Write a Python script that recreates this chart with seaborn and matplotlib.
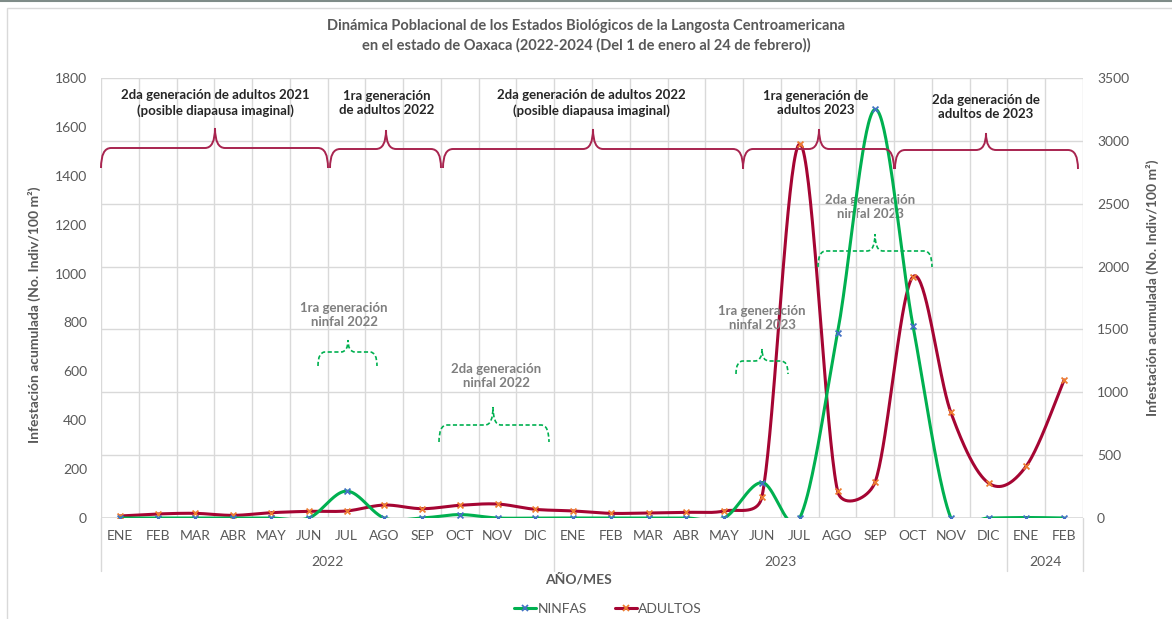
import numpy as np
import pandas as pd
import matplotlib
matplotlib.use("Agg")
import matplotlib.pyplot as plt
import seaborn as sns
from matplotlib.path import Path
from matplotlib.patches import PathPatch, Rectangle
from matplotlib.lines import Line2D
import matplotlib.transforms as mtransforms

# ---------------- data ----------------
meses = ['ENE', 'FEB', 'MAR', 'ABR', 'MAY', 'JUN', 'JUL', 'AGO', 'SEP', 'OCT', 'NOV', 'DIC',
         'ENE', 'FEB', 'MAR', 'ABR', 'MAY', 'JUN', 'JUL', 'AGO', 'SEP', 'OCT', 'NOV', 'DIC',
         'ENE', 'FEB']
anios = ['2022', '2023', '2024']
meses_por_anio = [12, 12, 2]
ninfas = [0, 0, 0, 0, 0, 0, 110, 0, 0, 14, 0, 0,
          0, 0, 0, 0, 0, 145, 0, 756, 1672, 785, 0, 0,
          2, 0]
adultos = [16, 32, 37, 21, 42, 53, 56, 103, 74, 101, 111, 69,
           56, 37, 40, 45, 56, 170, 2975, 217, 289, 1920, 841, 278,
           414, 1098]
left_ticks = [0, 200, 400, 600, 800, 1000, 1200, 1400, 1600, 1800]
right_ticks = [0, 500, 1000, 1500, 2000, 2500, 3000, 3500]

titulo = ("Dinámica Poblacional de los Estados Biológicos de la Langosta Centroamericana\n"
          "en el estado de Oaxaca (2022-2024 (Del 1 de enero al 24 de febrero))")
ylabel = "Infestación acumulada (No. Indiv/100 m²)"

# ---------------- style ----------------
sns.set_theme(style="white")
plt.rcParams['font.family'] = ['Lato', 'DejaVu Sans']
GRAY = '#595959'
GRID = '#D9D9D9'
GREEN = '#00B050'
RED = '#A50533'
BRACE = '#A8244F'

W, H = 1172, 619
fig = plt.figure(figsize=(W / 100, H / 100), dpi=100)
L, R, T, B = 101, 1083, 78, 518
ax = fig.add_axes([L / W, 1 - B / H, (R - L) / W, (B - T) / H])
ax2 = ax.twinx()


def fx(x):
    return x / W


def fy(y):
    return 1 - y / H


n = len(meses)
x = np.arange(n)

# right (secondary) scale axis carries the gridlines
ax.set_xlim(-0.5, n - 0.5)
ax.set_ylim(0, 3500)
ax2.set_ylim(0, 1800)
ax.set_yticks(right_ticks)
ax2.set_yticks(left_ticks)
ax.yaxis.tick_right()
ax.yaxis.set_label_position('right')
ax2.yaxis.tick_left()
ax2.yaxis.set_label_position('left')
ax.set_xticks(x)
ax.set_xticklabels(meses)
ax.set_xticks(np.arange(-0.5, n, 1.0), minor=True)
ax.grid(True, axis='y', color=GRID, lw=1.0)
ax.grid(True, axis='x', which='minor', color=GRID, lw=1.0)
ax.grid(False, axis='x', which='major')
ax2.grid(False)
for a in (ax, ax2):
    for s in a.spines.values():
        s.set_visible(False)
    a.tick_params(axis='both', which='both', length=0, colors=GRAY, labelsize=10)
ax.tick_params(axis='y', pad=10)
ax2.tick_params(axis='y', pad=10)
ax.tick_params(axis='x', pad=9)
ax.axhline(0, color=GRID, lw=1.2, zorder=1)


def excel_smooth(axis, xs, ys, nseg=40):
    """Excel-style smoothed line (Catmull-Rom Bezier with handle limiting), in screen space."""
    pts = axis.transData.transform(np.column_stack([xs, ys]).astype(float))
    out = []
    N = len(pts)
    t = np.linspace(0, 1, nseg)[:, None]
    for i in range(N - 1):
        p1, p2 = pts[i], pts[i + 1]
        p0 = pts[i - 1] if i > 0 else p1
        p3 = pts[i + 2] if i + 2 < N else p2
        d12 = np.linalg.norm(p2 - p1)
        d02 = np.linalg.norm(p2 - p0)
        d13 = np.linalg.norm(p3 - p1)
        f1 = 1 / 6
        f2 = 1 / 6
        if d02 / 6 >= d12 / 2 and d02 > 0:
            f1 = d12 / d02 / 2
        if d13 / 6 >= d12 / 2 and d13 > 0:
            f2 = d12 / d13 / 2
        c1 = p1 + (p2 - p0) * f1
        c2 = p2 - (p3 - p1) * f2
        seg = ((1 - t) ** 3) * p1 + 3 * ((1 - t) ** 2) * t * c1 + 3 * (1 - t) * t ** 2 * c2 + t ** 3 * p2
        out.append(seg if i == 0 else seg[1:])
    out = np.vstack(out)
    return axis.transData.inverted().transform(out)


def ftext(xp, yp, s, **kw):
    fig.text(fx(xp), fy(yp), s, ha='center', va='center', **kw)


ninf_kw = dict(color='#7F7F7F', fontsize=9.5, fontweight='bold', linespacing=1.25)
# this label sits behind the curves in the reference
ax.text(fx(870), fy(207), "2da generación\nninfal 2023", transform=fig.transFigure,
        ha='center', va='center', zorder=0.5, **ninf_kw)

# --- series ---
sm_ad = excel_smooth(ax, x, adultos)
df_ad = pd.DataFrame({'x': sm_ad[:, 0], 'y': sm_ad[:, 1]})
sns.lineplot(data=df_ad, x='x', y='y', ax=ax, color=RED, lw=2.2, sort=False, estimator=None, zorder=3)
sns.scatterplot(x=x, y=adultos, ax=ax, marker='x', color='#ED7D31', s=18, linewidth=1.3, zorder=4)

sm_ni = excel_smooth(ax2, x, ninfas)
df_ni = pd.DataFrame({'x': sm_ni[:, 0], 'y': sm_ni[:, 1]})
sns.lineplot(data=df_ni, x='x', y='y', ax=ax2, color=GREEN, lw=2.2, sort=False, estimator=None, zorder=3)
sns.scatterplot(x=x, y=ninfas, ax=ax2, marker='x', color='#4472C4', s=18, linewidth=1.3, zorder=4)

for a in (ax, ax2):
    a.set_xlabel('')
    a.set_ylabel('')
ax.set_xlim(-0.5, n - 0.5)
ax.set_ylim(0, 3500)
ax2.set_ylim(0, 1800)

# --- year groups below the axis ---
trans = mtransforms.blended_transform_factory(ax.transData, ax.transAxes)
start = 0
bounds = [-0.5]
for anio, cnt in zip(anios, meses_por_anio):
    center = start + (cnt - 1) / 2
    ax.text(center, -(562 - B) / (B - T), anio, transform=trans, ha='center', va='center',
            color=GRAY, fontsize=10)
    start += cnt
    bounds.append(start - 0.5)
for bx in bounds:
    ax.plot([bx, bx], [0, -(571 - B) / (B - T)], transform=trans, color=GRID, lw=1.0, clip_on=False)

# --- texts ---
ftext(586, 36, titulo, color=GRAY, fontsize=10.5, fontweight='bold', linespacing=1.45)
ftext(578, 579, "AÑO/MES", color=GRAY, fontsize=10, fontweight='bold')
fig.text(fx(34), fy(315), ylabel, rotation=90, ha='center', va='center', color=GRAY,
         fontsize=10, fontweight='bold')
fig.text(fx(1152), fy(288), ylabel, rotation=90, ha='center', va='center', color=GRAY,
         fontsize=10, fontweight='bold')

top_kw = dict(color='#262626', fontsize=9.5, fontweight='bold', linespacing=1.25)
ftext(215, 103, "2da generación de adultos 2021\n(posible diapausa imaginal)", **top_kw)
ftext(387, 103, "1ra generación\nde adultos 2022", **top_kw)
ftext(591, 103, "2da generación de adultos 2022\n(posible diapausa imaginal)", **top_kw)
ftext(816, 103, "1ra generación de\nadultos 2023", **top_kw)
ftext(986, 107, "2da generación de\nadultos de 2023", **top_kw)

ftext(344, 315, "1ra generación\nninfal 2022", **ninf_kw)
ftext(496, 376, "2da generación\nninfal 2022", **ninf_kw)
ftext(762, 318, "1ra generación\nninfal 2023", **ninf_kw)


# --- braces ---
def brace(x0, x1, xm, yh, yend, ytip, color, ls='-', r=10, lw=1.4):
    pts = [(x0, yend), (x0, yh), (x0 + r, yh), (xm - r, yh), (xm, yh), (xm, ytip),
           (xm, yh), (xm + r, yh), (x1 - r, yh), (x1, yh), (x1, yend)]
    codes = [Path.MOVETO, Path.CURVE3, Path.CURVE3, Path.LINETO, Path.CURVE3, Path.CURVE3,
             Path.CURVE3, Path.CURVE3, Path.LINETO, Path.CURVE3, Path.CURVE3]
    verts = [(fx(a), fy(b)) for a, b in pts]
    patch = PathPatch(Path(verts, codes), fill=False, edgecolor=color, lw=lw, ls=ls,
                      transform=fig.transFigure, zorder=5)
    fig.patches.append(patch)


brace(101, 328, 215, 148, 168, 128, BRACE)
brace(330, 441, 386, 149, 168, 130, BRACE)
brace(443, 743, 593, 149, 168, 129, BRACE)
brace(743, 894, 819, 149, 169, 129, BRACE)
brace(895, 1078, 986, 150, 169, 133, BRACE)

brace(318, 377, 348, 352, 366, 340, GREEN, ls=(0, (2.5, 1.5)), r=7, lw=1.2)
brace(439, 549, 493, 425, 442, 407, GREEN, ls=(0, (2.5, 1.5)), r=8, lw=1.2)
brace(736, 788, 762, 361, 374, 349, GREEN, ls=(0, (2.5, 1.5)), r=7, lw=1.2)
brace(818, 932, 875, 251, 267, 234, GREEN, ls=(0, (2.5, 1.5)), r=8, lw=1.2)

# chart border and top line
fig.patches.append(Rectangle((fx(7), fy(640)), fx(1185), fy(8) - fy(640), fill=False,
                             edgecolor='#D9D9D9', lw=1.0, transform=fig.transFigure))
fig.lines.append(Line2D([0, 1], [fy(0.5), fy(0.5)], color='#7F8C88', lw=1.5,
                        transform=fig.transFigure))

# --- legend ---
handles = [Line2D([0], [0], color=GREEN, lw=2.2, marker='x', markeredgecolor='#4472C4',
                  markersize=4, markeredgewidth=1.3),
           Line2D([0], [0], color=RED, lw=2.2, marker='x', markeredgecolor='#ED7D31',
                  markersize=4, markeredgewidth=1.3)]
leg = fig.legend(handles, ['NINFAS', 'ADULTOS'], loc='center', bbox_to_anchor=(fx(608), fy(609)),
                 ncol=2, frameon=False, fontsize=10, handlelength=1.6, handletextpad=0.1,
                 columnspacing=2.0)
for t in leg.get_texts():
    t.set_color(GRAY)

fig.savefig('out.png', dpi=100)
